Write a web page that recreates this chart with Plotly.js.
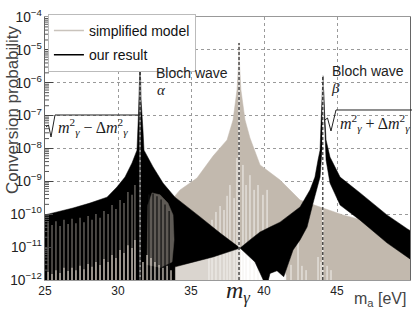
<!DOCTYPE html>
<html><head><meta charset="utf-8">
<script src="https://cdn.plot.ly/plotly-3.0.1.min.js"></script>
<style>html,body{margin:0;padding:0;background:#fff;}#chart{width:415px;height:310px;}</style>
</head><body><div id="chart"></div>
<script>
// ---- values (m_a in eV, log10 of conversion probability) ----
// simplified model: upper envelope of the oscillating curve
var simpM   = [25.00, 28.00, 31.00, 33.00, 33.77, 34.25, 35.41, 36.51, 37.47, 37.88, 38.15, 38.25, 38.29, 38.33, 38.42, 38.70, 39.04, 39.73, 41.10, 42.47, 43.84, 45.41, 47.26, 50.00];
var simpTop = [-10.9, -10.6, -10.2, -9.8, -9.51, -9.26, -8.90, -8.23, -7.74, -7.13, -6.22, -5.50, -4.79, -5.50, -6.22, -7.13, -7.68, -8.50, -8.96, -9.57, -9.78, -10.02, -10.24, -10.48];
// minima (white gaps) of the simplified model
var simpGapM   = [36.23, 36.44, 36.71, 36.99, 37.26, 37.47, 37.67, 37.95, 38.15, 38.56, 38.77, 39.04, 39.32, 39.59, 39.93, 40.21, 41.44, 41.85, 42.33, 42.60, 42.88, 43.70, 43.90, 44.32, 44.59];
var simpGapTop = [-10.48, -10.17, -9.93, -9.75, -9.87, -9.44, -9.11, -9.51, -8.29, -8.50, -9.11, -8.81, -9.26, -9.11, -9.41, -9.26, -11.63, -11.54, -10.84, -11.57, -11.70, -11.30, -11.45, -11.57, -11.70];
// region below the crossing where the simplified model dips out of range
var simpHoleM = [38.36, 38.36, 40.00, 41.50, 41.50];
var simpHoleL = [-12.0, -11.03, -11.50, -11.85, -12.0];
// our result: outline of the band left of alpha, alpha-right and beta-left bands
var oursM = [25.00, 25.00, 26.92, 28.08, 29.25, 29.93, 30.48, 30.96, 31.30, 31.40, 31.47, 31.51, 31.55, 31.58, 31.71, 31.78, 32.40, 33.08, 33.90, 35.62, 36.99, 38.36, 39.04, 39.73, 40.41, 41.10, 42.47, 43.15, 43.49, 43.70, 43.84, 43.94, 44.04, 44.01, 43.97, 43.84, 43.36, 42.95, 42.47, 41.99, 41.44, 41.35, 40.89, 40.41, 40.30, 39.95, 39.38, 38.36, 36.51, 34.93, 33.90, 33.90];
var oursL = [-12.0, -10.02, -9.81, -9.66, -9.48, -9.17, -8.87, -8.44, -8.05, -6.98, -5.92, -5.40, -5.92, -6.52, -7.44, -8.05, -8.56, -9.05, -9.48, -10.08, -10.57, -11.03, -10.78, -10.54, -10.39, -10.24, -9.78, -9.26, -8.87, -8.35, -8.05, -6.83, -5.79, -6.83, -8.05, -8.87, -9.66, -10.39, -10.78, -11.09, -11.79, -11.90, -11.72, -11.80, -12.0, -12.0, -11.45, -11.03, -11.30, -11.48, -11.60, -12.0];
// our result: band right of beta (outer edge then inner edge)
var betaRM = [44.04, 44.14, 44.25, 44.52, 45.21, 46.58, 48.42, 50.00, 50.00, 48.42, 46.58, 45.21, 44.52, 44.25, 44.14, 44.08];
var betaRL = [-5.79, -6.83, -7.74, -8.26, -8.87, -9.35, -10.02, -10.50, -11.36, -10.87, -10.18, -9.72, -9.05, -8.35, -7.13, -6.22];
// partially filled (grey) part right of alpha
var darkM = [31.99, 32.05, 32.33, 32.88, 33.42, 33.77, 33.84, 33.70, 32.88];
var darkL = [-11.54, -9.72, -9.35, -9.41, -9.66, -10.02, -10.78, -11.45, -11.63];
// black maxima crossing the grey part right of alpha
var darkSpikeM   = [32.12, 32.40, 32.67, 32.95, 33.22, 33.50];
var darkSpikeTop = [-9.40, -9.38, -9.45, -9.55, -9.70, -9.90];
// light area below the lower-left arm of the crossing
var lightM = [33.90, 33.90, 34.93, 36.51, 38.36, 38.36];
var lightL = [-12.0, -11.63, -11.48, -11.30, -11.03, -12.0];
// minima of our result left of alpha
var oursGapM   = [25.21, 25.48, 25.75, 26.03, 26.30, 26.58, 26.85, 27.12, 27.40, 27.67, 27.95, 28.22, 28.49, 28.77, 29.04, 29.32, 29.59, 29.86, 30.14, 30.41, 30.68, 30.96, 31.16];
var oursGapTop = [-10.24, -10.33, -10.21, -10.36, -10.17, -10.30, -10.14, -10.27, -10.11, -10.24, -10.05, -10.17, -9.99, -10.11, -9.90, -9.99, -9.72, -9.84, -9.57, -9.66, -9.32, -9.41, -9.11];
var oursLowTop = [-11.76, -11.82, -11.70, -11.79, -11.63, -11.73, -11.63, -11.70, -11.57, -11.67, -11.51, -11.60, -11.45, -11.54, -11.36, -11.45, -11.24, -11.33, -11.09, -11.18, -10.94, -11.03, -10.78];
// deepest minima of our result right of alpha
var oursLowRM  = [31.71, 31.99, 32.26, 32.53, 32.81, 33.08, 33.36, 33.63];
var oursLowRTop = [-11.45, -11.24, -11.33, -11.45, -11.54, -11.63, -11.57, -11.70];
// resonance positions and peak heights: alpha, m_gamma, beta
var resM   = [31.51, 38.29, 44.03];
var resTop = [-5.40, -4.79, -5.79];
var BOTTOM = -12.0;
var xTicks = [25, 30, 35, 40, 45, 50];
var yDecades = [-12, -11, -10, -9, -8, -7, -6, -5];
var minorDigits = [2, 3, 4, 5, 6, 7, 8, 9];

function P(v){ return Math.pow(10, v); }
function poly(xs, ls, color){
  return {x: xs, y: ls.map(function(v){ return P(v); }), type:'scatter', mode:'lines', fill:'toself', fillcolor: color,
          line:{color: color, width:0.5, simplify:false}, showlegend:false, hoverinfo:'skip'};
}
function sticks(xs, tops, base, color, w){
  var X = [], Y = [];
  for (var i = 0; i < xs.length; i++){ X.push(xs[i], xs[i], null); Y.push(P(base), P(tops[i]), null); }
  return {x: X, y: Y, type:'scatter', mode:'lines', line:{color: color, width: w}, showlegend:false, hoverinfo:'skip'};
}

var TAN = '#c2b9ae';
var data = [
  poly(simpM.concat([50, 25]), simpTop.concat([BOTTOM, BOTTOM]), TAN),
  poly(simpHoleM, simpHoleL, '#ffffff'),
  poly(lightM, lightL, '#dad5cf'),
  sticks(simpGapM, simpGapTop, BOTTOM, '#f3f1ee', 1),
  {x:[resM[1], resM[1]], y:[P(BOTTOM), P(resTop[1])], type:'scatter', mode:'lines', name:'simplified model',
   line:{color:'#c9c3bc', width:1.5}, legendgroup:'a', hoverinfo:'skip'},
  poly(oursM, oursL, '#000000'),
  poly(betaRM, betaRL, '#000000'),
  sticks(oursGapM, oursGapTop, BOTTOM, '#6e6a65', 1.3),
  sticks(oursGapM, oursLowTop, BOTTOM, '#c4bcb2', 1.3),
  poly(darkM, darkL, '#5e5a55'),
  sticks(darkSpikeM, darkSpikeTop, BOTTOM, '#111111', 1.2),
  sticks(oursLowRM, oursLowRTop, BOTTOM, '#cfc8bf', 1.3),
  {x:[resM[0], resM[0]], y:[P(BOTTOM), P(resTop[0])], type:'scatter', mode:'lines', name:'our result',
   line:{color:'#000000', width:1.5}, legendgroup:'b', hoverinfo:'skip'}
];

var shapes = [];
for (var i = 0; i < resM.length; i++){
  var peakY = (resTop[i] + 12) / 8;
  shapes.push({type:'line', xref:'x', yref:'paper', x0:resM[i], x1:resM[i], y0:0, y1:peakY, line:{color:'#ffffff', width:1}});
  shapes.push({type:'line', xref:'x', yref:'paper', x0:resM[i], x1:resM[i], y0:0, y1:peakY, line:{color:'#000000', width:1, dash:'3px,2px'}});
}
// minor log ticks on the left axis
for (var d = 0; d < yDecades.length; d++){
  for (var k = 0; k < minorDigits.length; k++){
    var yp = (yDecades[d] + Math.log10(minorDigits[k]) + 12) / 8;
    shapes.push({type:'line', xref:'paper', yref:'paper', x0:0, x1:4/365, y0:yp, y1:yp, line:{color:'#555', width:1}});
  }
}
// square-root signs of the two annotations
shapes.push({type:'path', xref:'paper', yref:'paper', path:'M 0.00274 0.5817 L 0.00959 0.5894 L 0.01644 0.5437 L 0.02740 0.6274 L 0.26027 0.6274', line:{color:'#222', width:1}});
shapes.push({type:'path', xref:'paper', yref:'paper', path:'M 0.76712 0.6084 L 0.77397 0.6160 L 0.78356 0.5665 L 0.79726 0.6464 L 1.00548 0.6464', line:{color:'#222', width:1}});

var SANS = 'Liberation Sans, Arial, Helvetica, sans-serif';
var SERIF = 'Liberation Serif, DejaVu Serif, serif';
function ann(text, x, y, font, extra){
  var a = {text:text, x:x, y:y, xref:'paper', yref:'paper', xanchor:'center', yanchor:'middle', showarrow:false, font:font};
  for (var key in (extra || {})) a[key] = extra[key];
  return a;
}
var annotations = [
  ann('Bloch wave', 0.4027, 0.787, {family:SANS, size:14, color:'#222'}),
  ann('<i>α</i>', 0.318, 0.722, {family:SERIF, size:15, color:'#222'}),
  ann('Bloch wave', 0.885, 0.795, {family:SANS, size:14, color:'#222'}),
  ann('<i>β</i>', 0.795, 0.730, {family:SERIF, size:15, color:'#222'}),
  ann('<i>m</i><sup>2</sup><sub><i>γ</i></sub> − Δ<i>m</i><sup>2</sup><sub><i>γ</i></sub>', 0.0301, 0.582, {family:SERIF, size:16, color:'#222'}, {xanchor:'left'}),
  ann('<i>m</i><sup>2</sup><sub><i>γ</i></sub> + Δ<i>m</i><sup>2</sup><sub><i>γ</i></sub>', 0.8027, 0.597, {family:SERIF, size:16, color:'#222'}, {xanchor:'left'}),
  ann('<i>m</i><sub><i>γ</i></sub>', 0.529, -0.045, {family:SERIF, size:24, color:'#222'}),
  ann('Conversion probability', -0.0904, 0.646, {family:SANS, size:17, color:'#444'}, {textangle:-90}),
  ann('m<sub>a</sub> [eV]', 0.9945, -0.076, {family:SANS, size:16, color:'#444'}, {xanchor:'right'})
];

var layout = {
  width:415, height:310,
  margin:{l:45, r:5, t:17, b:30},
  paper_bgcolor:'#fff', plot_bgcolor:'#fff',
  showlegend:true,
  legend:{x:0.008, y:1.012, xanchor:'left', yanchor:'top', bgcolor:'#fff', bordercolor:'#bbb', borderwidth:1,
          font:{family:SANS, size:14, color:'#111'}, traceorder:'grouped', tracegroupgap:3},
  xaxis:{range:[25, 50], tickvals:xTicks, showgrid:true, gridcolor:'#9a9a9a', griddash:'dot', gridwidth:1,
         zeroline:false, showline:true, linecolor:'#999', mirror:true, ticks:'',
         tickfont:{family:SANS, size:12, color:'#222'}},
  yaxis:{type:'log', range:[-12, -4], dtick:1, exponentformat:'power', showexponent:'all',
         showgrid:true, gridcolor:'#9a9a9a', griddash:'dot', gridwidth:1, zeroline:false,
         showline:true, linecolor:'#666', mirror:true, ticks:'inside', ticklen:8, tickcolor:'#444',
         tickfont:{family:SANS, size:11, color:'#222'}},
  shapes:shapes,
  annotations:annotations
};

Plotly.newPlot('chart', data, layout, {staticPlot:true, displayModeBar:false});
</script></body></html>
